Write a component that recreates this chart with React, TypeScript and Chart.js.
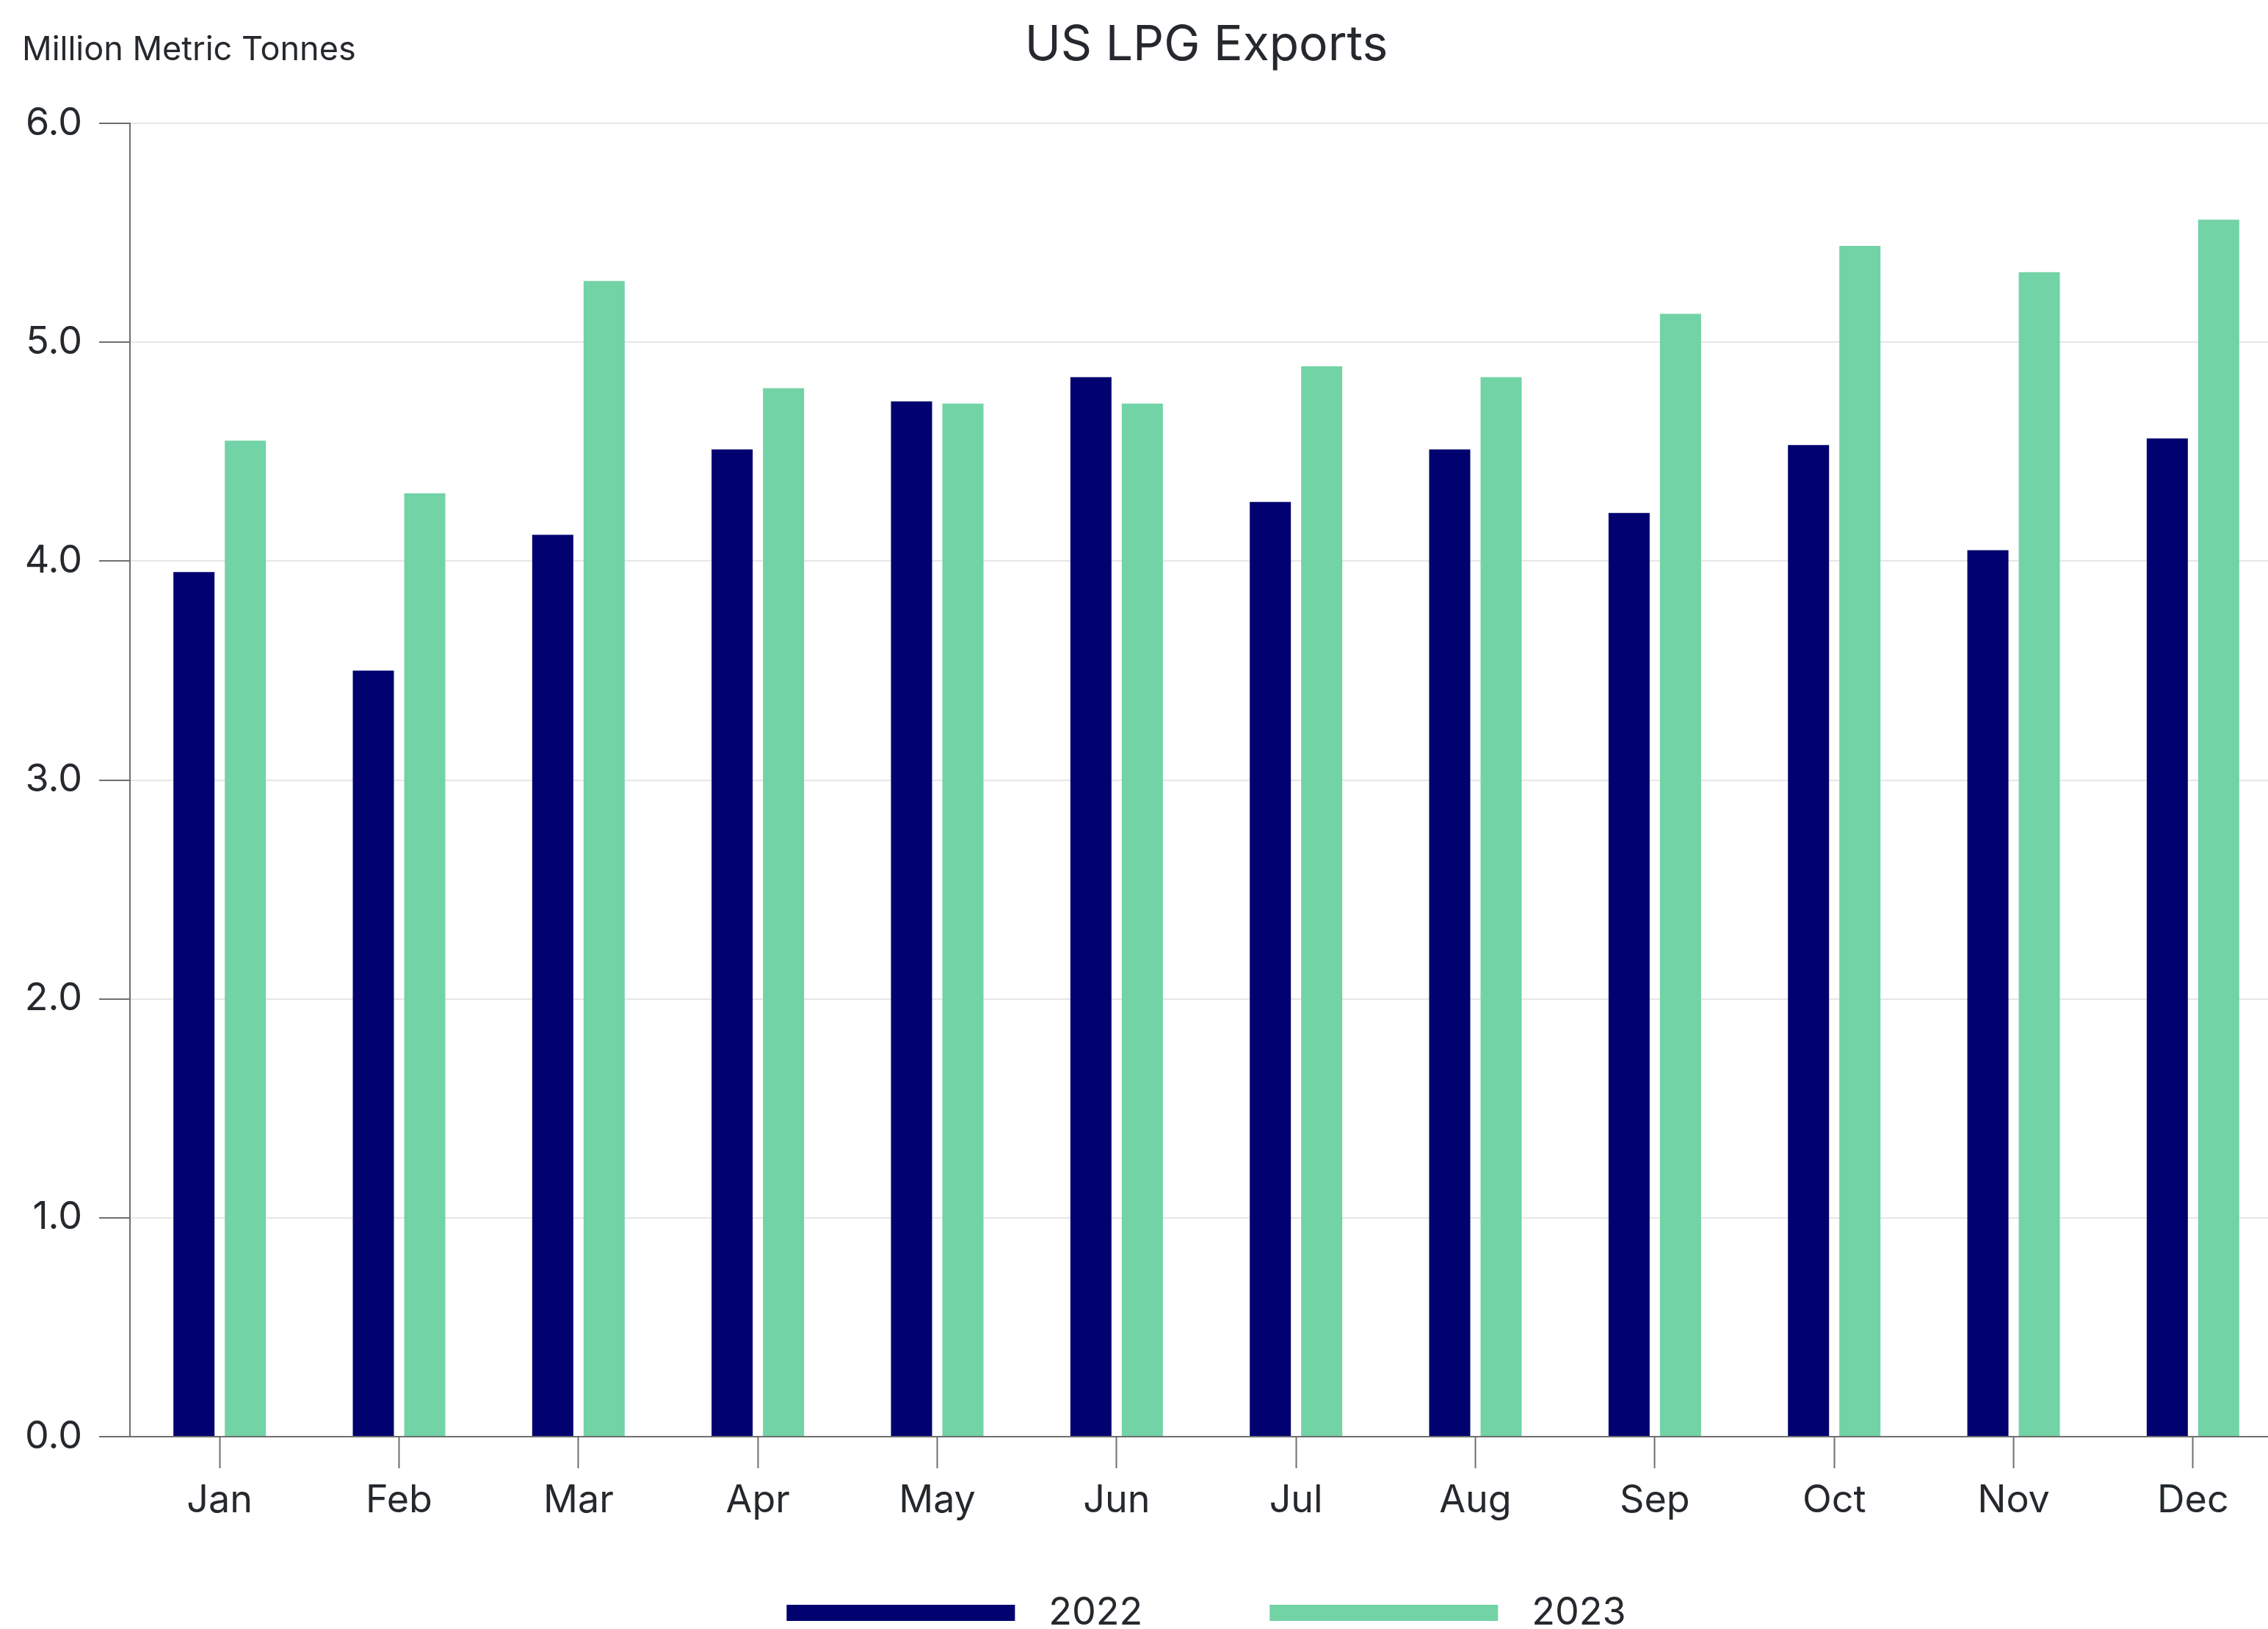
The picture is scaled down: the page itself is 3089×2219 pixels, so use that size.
import React, { useEffect, useRef } from "react";
import { Chart, registerables } from "chart.js";

Chart.register(...registerables);

// ---- data ----
const months = ["Jan", "Feb", "Mar", "Apr", "May", "Jun", "Jul", "Aug", "Sep", "Oct", "Nov", "Dec"];
const exports2022 = [3.95, 3.5, 4.12, 4.51, 4.73, 4.84, 4.27, 4.51, 4.22, 4.53, 4.05, 4.56];
const exports2023 = [4.55, 4.31, 5.28, 4.79, 4.72, 4.72, 4.89, 4.84, 5.13, 5.44, 5.32, 5.56];
const seriesLabels = ["2022", "2023"];
const yMin = 0;
const yMax = 6;
const yStep = 1;
const chartTitle = "US LPG Exports";
const unitLabel = "Million Metric Tonnes";

// ---- style ----
const W = 3089;
const H = 2219;
const CANVAS_W = 3109; // plot area runs slightly past the visible right edge
const NAVY = "#01016F";
const GREEN = "#72D3A6";
const TEXT = "#25292D";
const AXIS = "#6E6E6E";
const GRID = "#E6E6E6";
const FONT = "Inter, 'Noto Sans', sans-serif";

const overlayPlugin = {
  id: "overlayText",
  afterDraw(chart: any) {
    const ctx = chart.ctx as CanvasRenderingContext2D;
    const { left, right } = chart.chartArea;
    const cx = (left + right) / 2;
    ctx.save();
    ctx.fillStyle = TEXT;
    ctx.textBaseline = "alphabetic";
    ctx.font = `66px ${FONT}`;
    ctx.textAlign = "center";
    ctx.fillText(chartTitle, cx, 82);
    ctx.font = `45px ${FONT}`;
    ctx.textAlign = "left";
    ctx.fillText(unitLabel, 30, 82);

    // legend
    ctx.font = `52px ${FONT}`;
    const boxW = 311;
    const boxH = 22;
    const gap = 46;
    const itemGap = 173;
    const items = chart.data.datasets.map((ds: any) => ({
      label: ds.label as string,
      color: ds.backgroundColor as string,
      w: ctx.measureText(ds.label).width,
    }));
    let total = 0;
    items.forEach((it: any, i: number) => {
      total += boxW + gap + it.w + (i > 0 ? itemGap : 0);
    });
    let x = cx - total / 2;
    const yMid = 2197;
    ctx.textBaseline = "middle";
    ctx.textAlign = "left";
    items.forEach((it: any) => {
      ctx.fillStyle = it.color;
      ctx.fillRect(x, yMid - boxH / 2, boxW, boxH);
      ctx.fillStyle = TEXT;
      ctx.fillText(it.label, x + boxW + gap, yMid);
      x += boxW + gap + it.w + itemGap;
    });
    ctx.restore();
  },
};

export default function App() {
  const ref = useRef<HTMLCanvasElement | null>(null);

  useEffect(() => {
    document.body.style.margin = "0";
    const canvas = ref.current;
    if (!canvas) return;
    const chart = new Chart(canvas, {
      type: "bar",
      data: {
        labels: months,
        datasets: [
          {
            label: seriesLabels[0],
            data: exports2022,
            backgroundColor: NAVY,
            borderWidth: 0,
            categoryPercentage: 0.573,
            barPercentage: 0.8,
          },
          {
            label: seriesLabels[1],
            data: exports2023,
            backgroundColor: GREEN,
            borderWidth: 0,
            categoryPercentage: 0.573,
            barPercentage: 0.8,
          },
        ],
      },
      options: {
        responsive: false,
        animation: false,
        devicePixelRatio: 1,
        layout: { padding: { top: 168, left: 0, right: 0, bottom: 0 } },
        plugins: {
          legend: { display: false },
          title: { display: false },
          tooltip: { enabled: false },
        },
        scales: {
          x: {
            offset: true,
            afterFit: (scale: any) => {
              scale.height = H - 1957;
            },
            grid: {
              offset: false,
              drawOnChartArea: false,
              drawTicks: true,
              tickLength: 43,
              tickColor: AXIS,
              tickWidth: 2,
            },
            border: { display: true, color: AXIS, width: 2 },
            ticks: {
              padding: 13,
              color: TEXT,
              font: { family: FONT, size: 52 },
              maxRotation: 0,
            },
          },
          y: {
            min: yMin,
            max: yMax,
            afterFit: (scale: any) => {
              scale.width = 177;
            },
            grid: {
              color: GRID,
              lineWidth: 2,
              drawTicks: true,
              tickLength: 42,
              tickColor: AXIS,
              tickWidth: 2,
            },
            border: { display: true, color: AXIS, width: 2 },
            ticks: {
              stepSize: yStep,
              padding: 23,
              color: TEXT,
              font: { family: FONT, size: 52 },
              callback: (v: any) => Number(v).toFixed(1),
            },
          },
        },
      },
      plugins: [overlayPlugin],
    });
    return () => chart.destroy();
  }, []);

  return (
    <div style={{ width: W, height: H, overflow: "hidden" }}>
      <canvas ref={ref} width={CANVAS_W} height={H} style={{ display: "block" }} />
    </div>
  );
}
